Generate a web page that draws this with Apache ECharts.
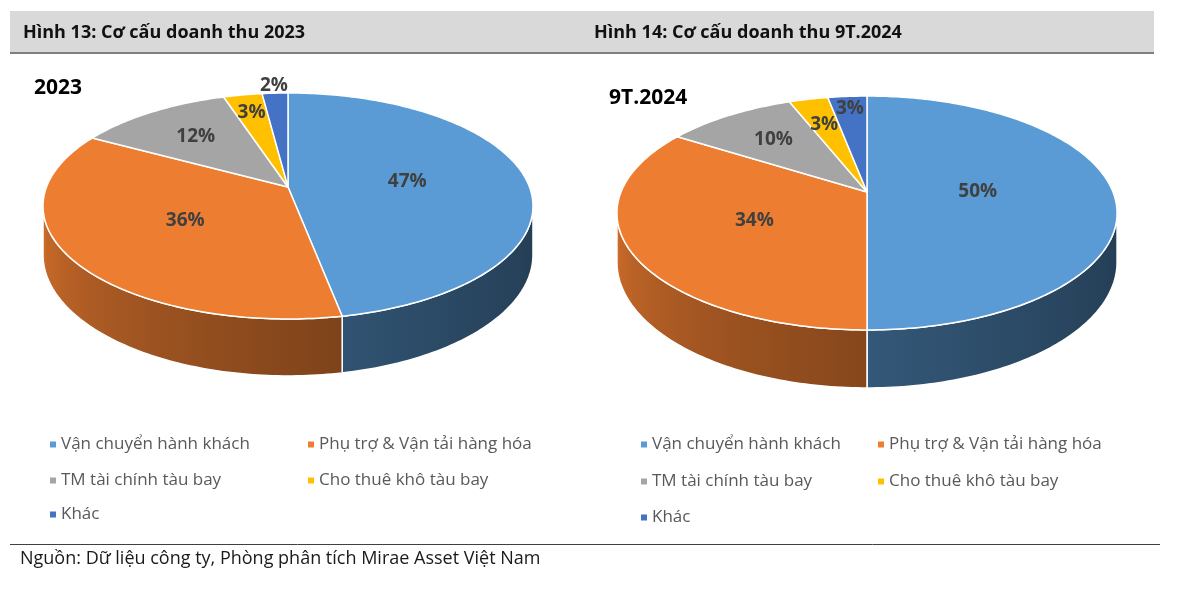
<!DOCTYPE html>
<html><head><meta charset="utf-8">
<script src="https://cdn.jsdelivr.net/npm/echarts@6/dist/echarts.min.js"></script>
<style>html,body{margin:0;padding:0;background:#fff}#c{width:1200px;height:590px}</style>
</head><body><div id="c"></div>
<script>
// ---------- data ----------
const categories = ['Vận chuyển hành khách', 'Phụ trợ & Vận tải hàng hóa', 'TM tài chính tàu bay', 'Cho thuê khô tàu bay', 'Khác'];
const values2023 = [47, 36, 12, 3, 2];
const values9T2024 = [50, 34, 10, 3, 3];
const chartTitles = ['Hình 13: Cơ cấu doanh thu 2023', 'Hình 14: Cơ cấu doanh thu 9T.2024'];
const pieNames = ['2023', '9T.2024'];
const sourceText = 'Nguồn: Dữ liệu công ty, Phòng phân tích Mirae Asset Việt Nam';

// ---------- style / layout ----------
const colors = ['#5B9BD5', '#ED7D31', '#A5A5A5', '#FFC000', '#4472C4'];
const FONT = '"Open Sans", "Noto Sans", sans-serif';
const pies = [
  { values: values2023, cx: 288, cy: 187, rx: 241.5, ry: 109.8, k: 0.168, depth: 47.4, labelR: [0.5, 0.5, 0.65, 0.78, 1.1] },
  { values: values9T2024, cx: 867, cy: 192, rx: 246, ry: 113.2, k: 0.1795, depth: 47.6, labelR: [0.45, 0.5, 0.65, 0.7, 0.85] }
];
const legendLayouts = [
  { x: [50, 308], y: [443, 479, 513] },
  { x: [641, 878], y: [443, 480, 516] }
];

function hexToRgb(h) { h = h.replace('#', ''); return [0, 2, 4].map(i => parseInt(h.substr(i, 2), 16)); }
function shade(h, f) { return 'rgb(' + hexToRgb(h).map(x => Math.round(Math.min(255, x * f))).join(',') + ')'; }
function wallLight(phi) { const t = Math.max(0, Math.min(1, (phi - 100) / 160)); return 0.4 + 0.47 * Math.pow(t, 1.5); }
function proj(p, phiDeg, r) {
  const a = phiDeg * Math.PI / 180;
  const u = r * Math.sin(a), v = -r * Math.cos(a);
  const w = 1 / (1 - p.k * v);
  return [p.cx + p.rx * u * w, p.cy + p.ry * v * w, w];
}

function makeRender(pi, ci) {
  return function (params, api) {
    const p = pies[pi];
    const vals = p.values;
    const total = vals.reduce((a, b) => a + b, 0);
    let start = 0;
    for (let i = 0; i < ci; i++) start += vals[i];
    const val = api.value(0);
    const a0 = start / total * 360, a1 = (start + val) / total * 360;
    const children = [];
    // outer wall (front-facing part)
    const L = Math.acos(-p.k) * 180 / Math.PI, R = 360 - L;
    const w0 = Math.max(a0, L), w1 = Math.min(a1, R);
    if (w1 > w0) {
      const top = [], bot = [], samp = [];
      const n = Math.max(2, Math.ceil(w1 - w0));
      for (let i = 0; i <= n; i++) {
        const phi = w0 + (w1 - w0) * i / n;
        const q = proj(p, phi, 1);
        top.push([q[0], q[1]]);
        bot.push([q[0], q[1] + p.depth * q[2]]);
        samp.push([q[0], phi]);
      }
      const xs = samp.map(s => s[0]);
      const xmin = Math.min(...xs), xmax = Math.max(...xs);
      const stops = [];
      const m = 8;
      for (let j = 0; j <= m; j++) {
        const s = samp[Math.round(j * n / m)];
        stops.push({ offset: (s[0] - xmin) / Math.max(1, xmax - xmin), color: shade(colors[ci], wallLight(s[1])) });
      }
      stops.sort((A, B) => A.offset - B.offset);
      const grad = new echarts.graphic.LinearGradient(xmin, 0, xmax, 0, stops, true);
      children.push({ type: 'polygon', shape: { points: top.concat(bot.reverse()) }, style: { fill: grad, stroke: '#fff', lineWidth: 1.5 } });
    }
    // top face
    const pts = [[p.cx, p.cy]];
    const n2 = Math.max(2, Math.ceil(a1 - a0));
    for (let i = 0; i <= n2; i++) {
      const q = proj(p, a0 + (a1 - a0) * i / n2, 1);
      pts.push([q[0], q[1]]);
    }
    children.push({ type: 'polygon', shape: { points: pts }, style: { fill: colors[ci], stroke: '#fff', lineWidth: 1.5, lineJoin: 'round' } });
    // label
    const lq = proj(p, (a0 + a1) / 2, p.labelR[ci]);
    children.push({
      type: 'text', x: lq[0], y: lq[1], z2: 100,
      style: { text: Math.round(val / total * 100) + '%', fill: '#404040', font: 'bold 19px ' + FONT, align: 'center', verticalAlign: 'middle' }
    });
    return { type: 'group', children };
  };
}

const series = [];
pies.forEach((p, pi) => {
  categories.forEach((name, ci) => {
    series.push({
      type: 'custom', name, coordinateSystem: 'none', silent: true, animation: false,
      itemStyle: { color: colors[ci] },
      data: [[p.values[ci]]],
      renderItem: makeRender(pi, ci)
    });
  });
});

const legends = [];
legendLayouts.forEach(lay => {
  categories.forEach((name, ci) => {
    legends.push({
      data: [name], selectedMode: false, icon: 'rect', itemWidth: 6, itemHeight: 6, padding: 0,
      left: lay.x[ci % 2], top: lay.y[Math.floor(ci / 2)] - 7,
      textStyle: { fontFamily: FONT, fontSize: 17, color: '#595959' }
    });
  });
});

const graphic = [
  { type: 'rect', shape: { x: 10, y: 11, width: 572, height: 42 }, style: { fill: '#D9D9D9' }, silent: true },
  { type: 'rect', shape: { x: 582, y: 11, width: 572, height: 42 }, style: { fill: '#D9D9D9' }, silent: true },
  { type: 'line', shape: { x1: 10, y1: 53, x2: 1154, y2: 53 }, style: { stroke: '#7F7F7F', lineWidth: 2 }, silent: true },
  { type: 'text', x: 23, y: 33, style: { text: chartTitles[0], font: 'bold 18px ' + FONT, fill: '#111', verticalAlign: 'middle' } },
  { type: 'text', x: 594, y: 33, style: { text: chartTitles[1], font: 'bold 18px ' + FONT, fill: '#111', verticalAlign: 'middle' } },
  { type: 'text', x: 34, y: 88, style: { text: pieNames[0], font: 'bold 21px ' + FONT, fill: '#000', verticalAlign: 'middle' } },
  { type: 'text', x: 609, y: 98, style: { text: pieNames[1], font: 'bold 21px ' + FONT, fill: '#000', verticalAlign: 'middle' } },
  { type: 'line', shape: { x1: 10, y1: 544.5, x2: 1160, y2: 544.5 }, style: { stroke: '#404040', lineWidth: 1 }, silent: true },
  { type: 'text', x: 20, y: 559, style: { text: sourceText, font: '18px ' + FONT, fill: '#1a1a1a', verticalAlign: 'middle' } }
];

const chart = echarts.init(document.getElementById('c'));
chart.setOption({ backgroundColor: '#fff', animation: false, legend: legends, graphic, series });
</script>
</body></html>
